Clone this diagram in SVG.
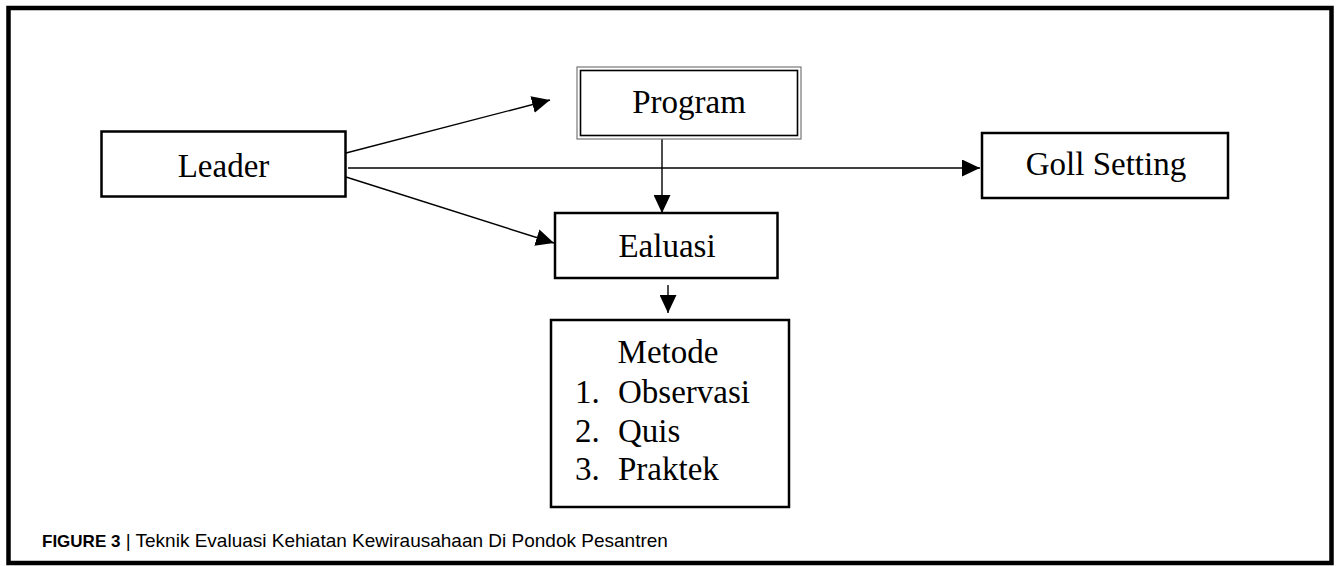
<svg xmlns="http://www.w3.org/2000/svg" width="1336" height="566" viewBox="0 0 1336 566">
<style>
.box{fill:#fff;stroke:#000;stroke-width:2.5}
.t{font-family:"Liberation Serif","Times New Roman",serif;font-size:33px;fill:#000}
.c{stroke:#000;stroke-width:1.4;fill:none}
.cap{font-family:"Liberation Sans",Arial,sans-serif;fill:#000}
</style>
<defs>
<marker id="ah" markerUnits="userSpaceOnUse" markerWidth="18" markerHeight="17" refX="18" refY="8.5" orient="auto">
<path d="M0,0 L18,8.5 L0,17 z" fill="#000"/>
</marker>
</defs>
<rect x="0" y="0" width="1336" height="566" fill="#fff"/>
<rect x="8.5" y="8" width="1323" height="555" fill="none" stroke="#000" stroke-width="4.5"/>
<g id="connectors">
<line class="c" x1="346" y1="153" x2="550" y2="100" marker-end="url(#ah)"/>
<line class="c" x1="348" y1="168" x2="980" y2="168" marker-end="url(#ah)"/>
<line class="c" x1="346" y1="177" x2="554" y2="243" marker-end="url(#ah)"/>
<line class="c" x1="662" y1="139" x2="662" y2="213" marker-end="url(#ah)"/>
<line class="c" x1="668" y1="285" x2="668" y2="313" marker-end="url(#ah)"/>
</g>
<g id="leader">
<rect class="box" x="101.5" y="131.5" width="244" height="65"/>
<text class="t" x="223.5" y="177" text-anchor="middle">Leader</text>
</g>
<g id="program">
<rect x="577" y="67" width="224" height="72" fill="#fff" stroke="#777" stroke-width="1.2"/>
<rect x="580.5" y="70.5" width="217" height="65" fill="none" stroke="#000" stroke-width="1.6"/>
<text class="t" x="689" y="113" text-anchor="middle">Program</text>
</g>
<g id="goll-setting">
<rect class="box" x="982" y="133" width="246" height="65"/>
<text class="t" x="1106" y="175" text-anchor="middle">Goll Setting</text>
</g>
<g id="ealuasi">
<rect class="box" x="555" y="213" width="222.5" height="65"/>
<text class="t" x="667" y="257" text-anchor="middle">Ealuasi</text>
</g>
<g id="metode">
<rect class="box" x="551" y="320" width="238" height="187"/>
<text class="t" x="668" y="363" text-anchor="middle">Metode</text>
<text class="t" x="575" y="403">1.</text><text class="t" x="618" y="403">Observasi</text>
<text class="t" x="575" y="442">2.</text><text class="t" x="618" y="442">Quis</text>
<text class="t" x="575" y="480">3.</text><text class="t" x="618" y="480">Praktek</text>
</g>
<text class="cap" x="42" y="547"><tspan font-weight="bold" font-size="17">FIGURE 3</tspan><tspan font-size="19"> | Teknik Evaluasi Kehiatan Kewirausahaan Di Pondok Pesantren</tspan></text>
</svg>
